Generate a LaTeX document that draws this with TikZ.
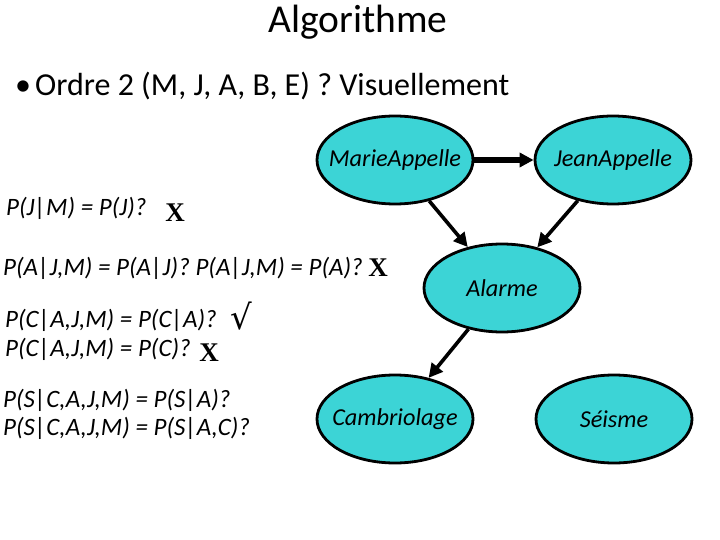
\documentclass[tikz,border=0pt]{standalone}
\usepackage{fontspec}
\setmainfont{Carlito}
\newfontfamily\timesbf{Liberation Serif}[BoldFont=* Bold]
\newfontfamily\symfont{DejaVu Sans}
\usetikzlibrary{shapes.geometric,arrows.meta}
\definecolor{nodecyan}{RGB}{60,212,214}
\tikzset{
  bnode/.style={ellipse,draw=black,line width=2.8pt,fill=nodecyan,minimum width=156pt,minimum height=88pt,inner xsep=-20pt,inner ysep=0pt,font=\fontsize{24.3}{26}\selectfont\itshape},
  arr/.style={line width=3.6pt,-{Triangle[length=14pt,width=14pt]}},
  formula/.style={anchor=west,inner sep=0pt,font=\fontsize{25}{27}\selectfont\itshape},
  xmark/.style={inner sep=0pt,font=\fontsize{27}{28}\selectfont\timesbf\bfseries}
}
\begin{document}
\begin{tikzpicture}[x=1pt,y=-1pt]
\useasboundingbox[fill=white] (0,0) rectangle (720,540);
\node[inner sep=0pt,font=\fontsize{39.5}{42}\selectfont] (title) at (358,22) {Algorithme};
\node[anchor=west,inner sep=0pt,font=\fontsize{32}{34}\selectfont] (bullet) at (15,86) {\textbullet\hspace{4pt}Ordre 2 (M, J, A, B, E) ? Visuellement};

\node[bnode] (M) at (395,160) {MarieAppelle};
\node[bnode] (J) at (613,160) {JeanAppelle};
\node[bnode] (A) at (502,288) {Alarme};
\node[bnode] (C) at (395,419) {Cambriolage};
\node[bnode] (S) at (614,419) {Séisme};

\draw[arr,line width=5.5pt] (M) -- (J);
\draw[arr] (M) -- (A);
\draw[arr] (J) -- (A);
\draw[arr] (A) -- (C);

\node[formula] (f1) at (6,208) {P(J|M) = P(J)?};
\node[formula] (f2) at (3,268) {P(A|J,M) = P(A|J)? P(A|J,M) = P(A)?};
\node[formula] (f3) at (5,320) {P(C|A,J,M) = P(C|A)?};
\node[formula] (f4) at (5,349) {P(C|A,J,M) = P(C)?};
\node[formula] (f5) at (3,400) {P(S|C,A,J,M) = P(S|A)?};
\node[formula] (f6) at (3,428) {P(S|C,A,J,M) = P(S|A,C)?};

\node[xmark] (x1) at (175,213) {X};
\node[xmark] (x2) at (378,268) {X};
\node[inner sep=0pt,font=\fontsize{34}{36}\selectfont\symfont] (v3) at (241,316) {√};
\node[xmark] (x4) at (209,353) {X};
\end{tikzpicture}
\end{document}
